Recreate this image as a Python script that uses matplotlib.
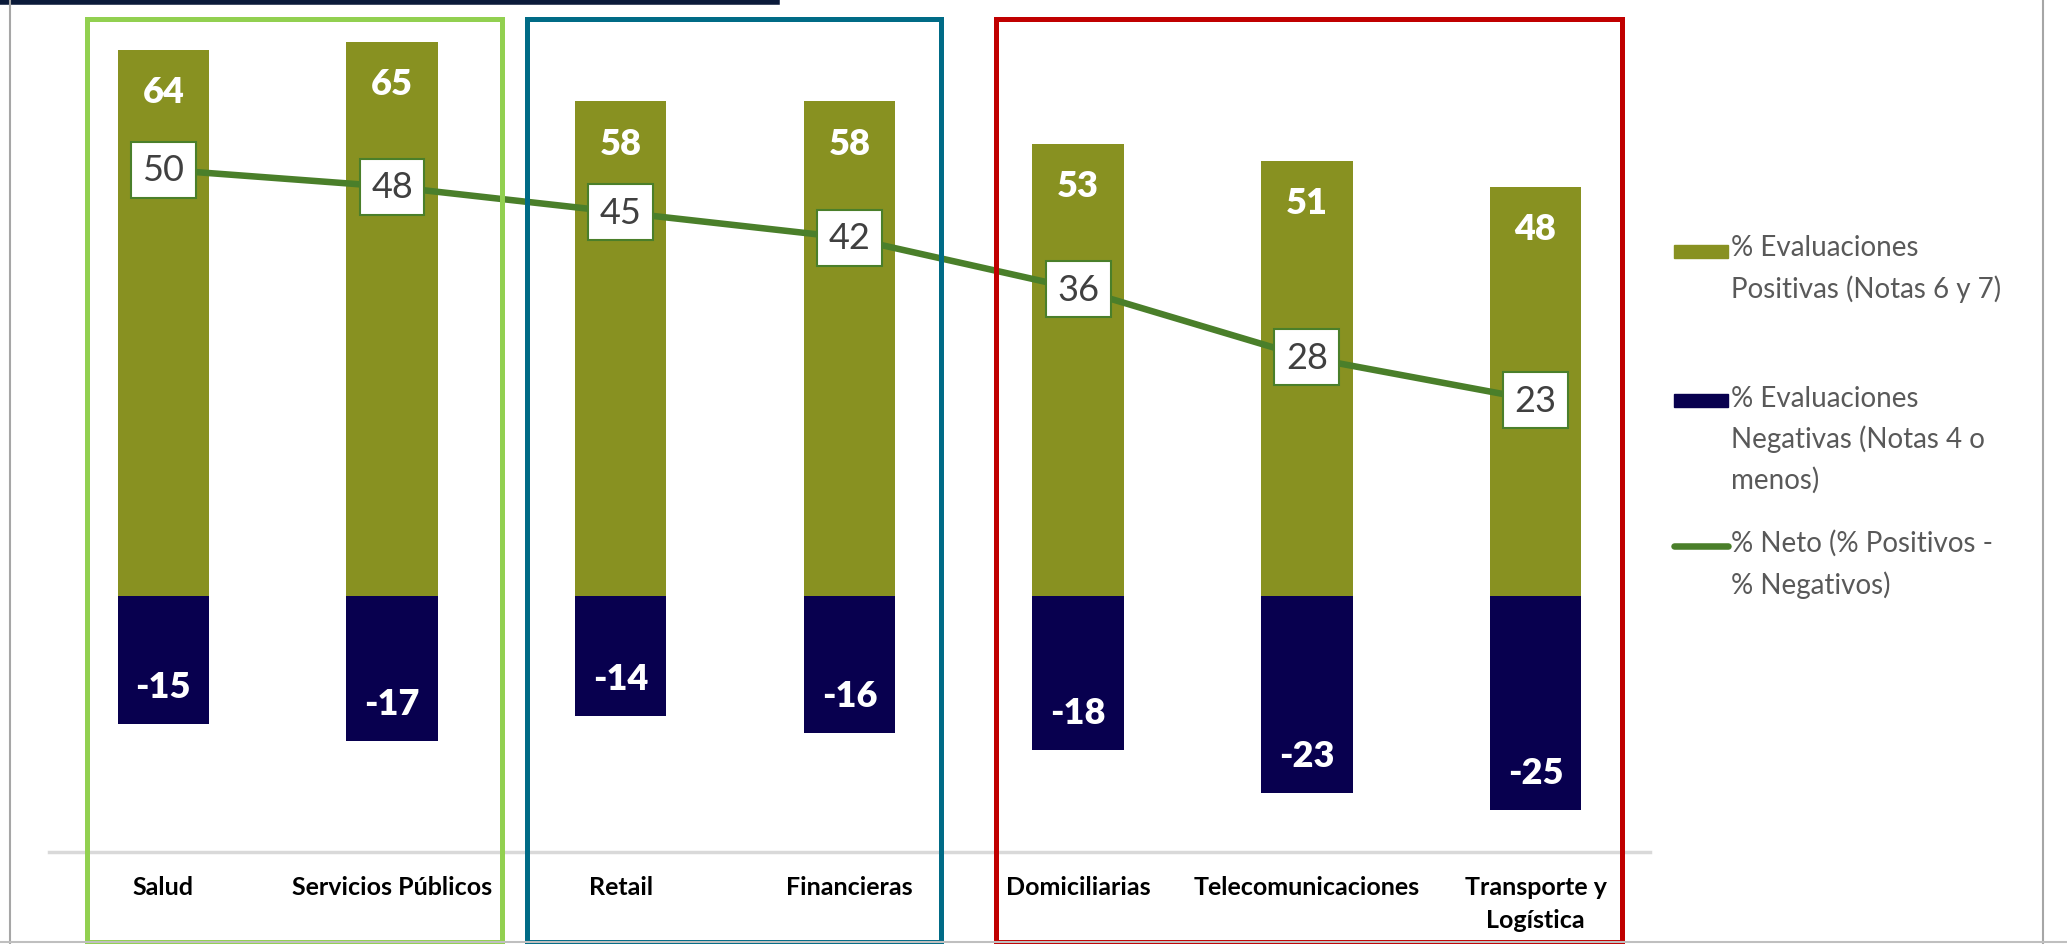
"""Evaluaciones positivas / negativas por industria"""
import matplotlib.pyplot as plt
import matplotlib.transforms as mtransforms
from matplotlib.patches import Rectangle
from matplotlib.lines import Line2D

plt.rcParams['font.family'] = ['Lato', 'DejaVu Sans']

# Datos
industrias = ['Salud', 'Servicios Públicos', 'Retail', 'Financieras',
              'Domiciliarias', 'Telecomunicaciones', 'Transporte y\nLogística']
positivas = [64, 65, 58, 58, 53, 51, 48]
negativas = [-15, -17, -14, -16, -18, -23, -25]
neto = [50, 48, 45, 42, 36, 28, 23]

# Recuadros de grupos (borde izq., borde der. en unidades de categoría, color)
grupos = [(-0.334, 1.48, '#92D050'), (1.59, 3.40, '#006B86'), (3.64, 6.38, '#C00000')]

c_pos = '#889121'
c_neg = '#08004F'
c_neto = '#4A7F2A'

fig = plt.figure(figsize=(20.67, 9.45), dpi=100)
ax = fig.add_axes([0.0237, 0.097, 0.7745, 0.903])

x = range(len(industrias))
ax.bar(x, positivas, width=0.4, color=c_pos, zorder=2)
ax.bar(x, negativas, width=0.4, color=c_neg, zorder=2)

# Etiquetas dentro de las barras
for i, (p, n) in enumerate(zip(positivas, negativas)):
    ax.annotate(str(p), (i, p), xytext=(0, -30), textcoords='offset points',
                ha='center', va='center', color='white', fontsize=26,
                fontweight='heavy', zorder=3)
    ax.annotate(str(n), (i, n), xytext=(0, 27), textcoords='offset points',
                ha='center', va='center', color='white', fontsize=26,
                fontweight='heavy', zorder=3)

# Línea de neto
ax.plot(x, neto, color=c_neto, linewidth=4.7, zorder=4)
for i, v in enumerate(neto):
    ax.text(i, v, str(v), ha='center', va='center', fontsize=26,
            color='#404040', zorder=5,
            bbox=dict(boxstyle='square,pad=0.32', fc='white', ec=c_neto, lw=1.5))

ax.set_xlim(-0.5, 6.5)
ax.set_ylim(-30, 70)
ax.set_yticks([])
ax.set_xticks(list(x))
ax.set_xticklabels(industrias, fontsize=18, fontweight='bold', color='black',
                   linespacing=1.55)
ax.tick_params(axis='x', length=0, pad=16)
for s in ['top', 'right', 'left']:
    ax.spines[s].set_visible(False)
ax.spines['bottom'].set_color('#D9D9D9')
ax.spines['bottom'].set_linewidth(2.5)
ax.patch.set_alpha(0)

# Recuadros
trans = mtransforms.blended_transform_factory(ax.transData, fig.transFigure)
for izq, der, col in grupos:
    rect = Rectangle((izq, 0.002), der - izq, 0.977, transform=trans,
                     fill=False, ec=col, lw=3.6, clip_on=False, zorder=1)
    fig.add_artist(rect)

# Marco de la diapositiva
fig.add_artist(Line2D([0, 0.376], [0.997, 0.997], color='#0B1A3A', lw=4))
fig.add_artist(Line2D([0.005, 0.005], [0, 1], color='#A6A6A6', lw=1.5))
fig.add_artist(Line2D([0.9885, 0.9885], [0, 1], color='#A6A6A6', lw=1.5))
fig.add_artist(Line2D([0, 1], [0.002, 0.002], color='#BFBFBF', lw=1.5))

# Leyenda
ley_txt = '#595959'
fig.add_artist(Rectangle((0.810, 0.726), 0.026, 0.014, transform=fig.transFigure,
                         color=c_pos))
fig.text(0.8375, 0.751, '% Evaluaciones\nPositivas (Notas 6 y 7)', fontsize=20,
         color=ley_txt, va='top', ha='left', linespacing=1.62)
fig.add_artist(Rectangle((0.810, 0.568), 0.026, 0.014, transform=fig.transFigure,
                         color=c_neg))
fig.text(0.8375, 0.592, '% Evaluaciones\nNegativas (Notas 4 o\nmenos)', fontsize=20,
         color=ley_txt, va='top', ha='left', linespacing=1.62)
fig.add_artist(Line2D([0.810, 0.836], [0.421, 0.421], color=c_neto, lw=4.7,
                      solid_capstyle='round'))
fig.text(0.8375, 0.439, '% Neto (% Positivos -\n% Negativos)', fontsize=20,
         color=ley_txt, va='top', ha='left', linespacing=1.62)

fig.savefig('out.png', dpi=100)
